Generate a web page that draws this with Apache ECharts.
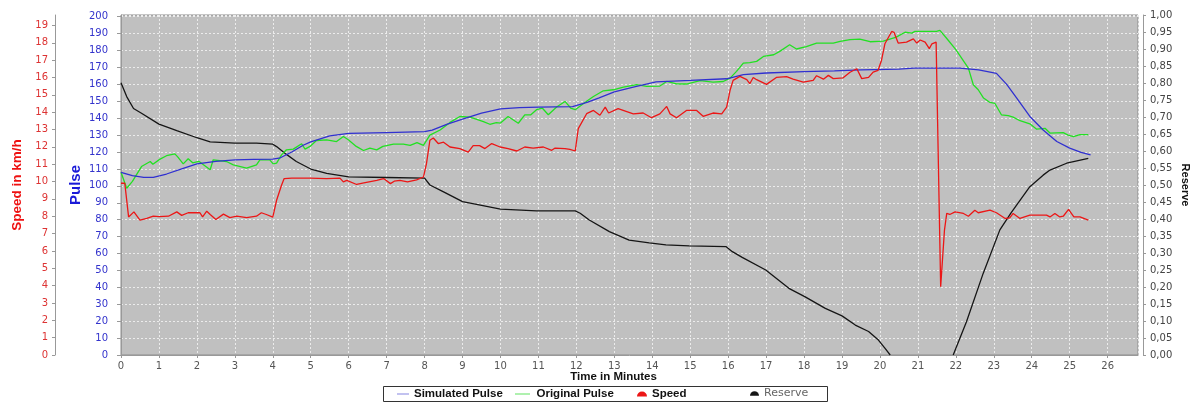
<!DOCTYPE html>
<html>
<head>
<meta charset="utf-8">
<title>Pulse simulation</title>
<script src="https://cdn.jsdelivr.net/npm/echarts@6/dist/echarts.min.js"></script>
<style>
  html, body { margin: 0; padding: 0; background: #fff; }
  #myChart { width: 1200px; height: 403px; }
</style>
</head>
<body>
<div id="myChart"></div>
<script>
// time in minutes / values
var simTime = [0, 0.3, 0.6, 0.85, 1.2, 1.6, 2.0, 2.5, 3.0, 3.5, 4.0, 4.2, 4.5, 4.8, 5.0, 5.5, 6.0, 7.0, 8.0, 8.2, 8.6, 9.0, 9.5, 10.0, 10.5, 11.0, 11.9, 12.3, 12.6, 13.0, 13.5, 14.1, 15.0, 15.96, 16.4, 17.0, 18.0, 18.8, 19.5, 20.5, 20.9, 22.1, 22.6, 23.07, 23.34, 23.6, 23.95, 24.3, 24.66, 25.0, 25.3, 25.55]
var simPulse = [108, 106, 105, 105, 107, 110, 113, 114.5, 115.3, 115.6, 115.8, 116.6, 120, 124, 126, 129.5, 131, 131.5, 132, 133, 136.5, 139.5, 143, 145.5, 146.3, 146.5, 146.8, 149.5, 152, 155.5, 158.4, 161.5, 162.3, 163.3, 165.7, 166.7, 167.5, 168, 168.5, 169, 169.6, 169.6, 168.5, 166.5, 160, 152, 141, 133, 126.2, 122.3, 119.8, 118.3]

var origTime = [0, 0.15, 0.2, 0.3, 0.54, 0.77, 0.84, 1.03, 1.2, 1.42, 1.5, 1.64, 1.77, 1.89, 2.05, 2.35, 2.43, 2.78, 2.96, 3.31, 3.57, 3.66, 3.92, 4.01, 4.1, 4.23, 4.36, 4.54, 4.76, 4.85, 4.98, 5.15, 5.42, 5.68, 5.86, 5.99, 6.2, 6.39, 6.56, 6.74, 6.9, 7.18, 7.44, 7.62, 7.8, 7.97, 8.14, 8.41, 8.67, 8.93, 9.2, 9.55, 9.72, 9.89, 10.0, 10.2, 10.47, 10.64, 10.8, 10.95, 11.1, 11.26, 11.48, 11.7, 11.85, 11.97, 12.27, 12.45, 12.71, 12.97, 13.24, 13.59, 13.85, 14.2, 14.38, 14.64, 14.9, 15.26, 15.6, 15.87, 16.05, 16.22, 16.4, 16.57, 16.75, 16.93, 17.2, 17.36, 17.62, 17.8, 18.06, 18.33, 18.77, 18.95, 19.21, 19.47, 19.74, 20.09, 20.43, 20.66, 20.84, 20.92, 21.49, 21.58, 21.75, 22.0, 22.33, 22.46, 22.59, 22.73, 22.9, 23.03, 23.2, 23.38, 23.51, 23.69, 23.95, 24.13, 24.35, 24.48, 24.83, 24.96, 25.1, 25.27, 25.49]
var origPulse = [108, 98.6, 99, 102.6, 111.4, 114.4, 112.8, 115.8, 117.8, 118.9, 117, 113, 116, 113.6, 114.5, 109.5, 115.4, 114.4, 112.4, 110.5, 112.4, 115.4, 115.4, 113, 113.4, 118.3, 121.3, 121.7, 124.9, 121.7, 123.3, 126.8, 127.2, 126.2, 129.2, 127.2, 123.3, 120.9, 122.3, 121.3, 123.3, 124.7, 124.7, 123.9, 125.6, 123.9, 130, 133, 137.5, 141, 140.6, 138, 136.4, 137.4, 137.1, 141, 137, 142, 142, 145, 146, 142, 146.6, 149.9, 146, 145, 150, 152.8, 156.2, 156.8, 158.4, 159.8, 158.8, 159, 161.7, 160.3, 160.2, 162.2, 161.3, 161.7, 163.7, 167.7, 172.6, 172.9, 173.6, 176.5, 177.5, 179.5, 183.4, 180.9, 182.3, 184.4, 184.4, 185.4, 186.5, 186.7, 185.2, 185.6, 187.9, 190.8, 190.3, 191.3, 191.3, 191.9, 187.4, 180.5, 169.6, 159.8, 156.8, 151.9, 149.3, 148.7, 142, 141.5, 140.6, 138.5, 136.7, 133.5, 134, 131.2, 131.5, 130, 129.1, 130.3, 130.3]

var speedTime = [0, 0.1, 0.2, 0.34, 0.5, 0.68, 0.85, 1.0, 1.25, 1.47, 1.6, 1.77, 2.08, 2.15, 2.26, 2.35, 2.5, 2.7, 2.87, 3.05, 3.31, 3.57, 3.7, 3.83, 4.0, 4.1, 4.23, 4.3, 4.5, 4.98, 5.42, 5.77, 5.86, 5.95, 6.21, 6.4, 6.74, 6.92, 7.1, 7.2, 7.35, 7.55, 7.79, 7.97, 8.05, 8.14, 8.23, 8.36, 8.5, 8.67, 8.93, 9.15, 9.28, 9.45, 9.59, 9.77, 9.99, 10.2, 10.43, 10.64, 10.86, 11.13, 11.35, 11.44, 11.7, 11.83, 11.97, 12.05, 12.27, 12.45, 12.62, 12.76, 12.85, 13.1, 13.5, 13.76, 13.98, 14.2, 14.38, 14.47, 14.64, 14.9, 15.17, 15.34, 15.6, 15.83, 15.96, 16.05, 16.13, 16.31, 16.49, 16.57, 16.66, 16.75, 17.01, 17.27, 17.54, 17.71, 17.98, 18.24, 18.33, 18.51, 18.64, 18.77, 19.03, 19.21, 19.39, 19.52, 19.7, 19.82, 19.95, 20.04, 20.13, 20.31, 20.37, 20.48, 20.7, 20.88, 20.97, 21.06, 21.19, 21.3, 21.37, 21.48, 21.6, 21.7, 21.76, 21.84, 21.98, 22.2, 22.33, 22.5, 22.59, 22.9, 23.07, 23.3, 23.42, 23.51, 23.69, 23.95, 24.39, 24.48, 24.61, 24.74, 24.83, 24.97, 25.11, 25.27, 25.49]
var speed = [9.9, 9.9, 7.96, 8.25, 7.77, 7.87, 8.0, 7.98, 8.0, 8.25, 8.05, 8.2, 8.2, 7.96, 8.29, 8.1, 7.81, 8.12, 7.92, 8.0, 7.92, 8.0, 8.2, 8.1, 7.95, 8.92, 9.79, 10.17, 10.2, 10.2, 10.17, 10.2, 9.98, 10.07, 9.83, 9.92, 10.07, 10.17, 9.88, 10.02, 10.07, 9.98, 10.1, 10.26, 11.03, 12.38, 12.51, 12.19, 12.27, 11.99, 11.9, 11.7, 12.07, 12.07, 11.9, 12.19, 11.99, 11.9, 11.76, 11.99, 11.93, 11.99, 11.8, 11.93, 11.9, 11.85, 11.76, 13.05, 13.91, 14.1, 13.82, 14.29, 13.95, 14.2, 13.9, 13.95, 13.68, 13.9, 14.33, 13.9, 13.68, 14.1, 14.1, 13.76, 13.95, 13.9, 14.29, 15.26, 15.83, 16.06, 15.87, 15.64, 16.0, 15.87, 15.6, 16.0, 16.05, 15.9, 15.73, 15.83, 16.1, 15.9, 16.12, 15.93, 15.98, 16.3, 16.5, 15.93, 16.0, 16.31, 16.41, 16.98, 17.94, 18.65, 18.6, 17.98, 18.04, 18.22, 17.98, 18.16, 18.04, 17.66, 17.94, 18.04, 3.93, 7.2, 8.16, 8.1, 8.25, 8.16, 8.0, 8.35, 8.2, 8.35, 8.2, 7.87, 7.9, 8.16, 7.87, 8.06, 8.06, 7.96, 8.16, 7.96, 8.0, 8.39, 7.96, 7.96, 7.77]

var reserveTime = [0, 0.15, 0.33, 0.54, 1.0, 1.47, 2.0, 2.35, 3.0, 3.57, 4.0, 4.1, 4.36, 4.62, 5.0, 5.42, 6.0, 7.0, 8.0, 8.14, 8.5, 9.0, 9.47, 10.0, 10.95, 11.97, 12.1, 12.34, 12.87, 13.39, 13.92, 14.36, 14.97, 15.94, 16.11, 16.37, 16.99, 17.6, 18.03, 18.56, 19.0, 19.35, 19.7, 19.96, 20.13, 20.27, 21.1, 21.93, 22.28, 22.72, 23.16, 23.45, 23.95, 24.3, 24.48, 24.92, 25.49]
var reserve = [0.801, 0.76, 0.725, 0.711, 0.679, 0.66, 0.639, 0.627, 0.623, 0.623, 0.62, 0.613, 0.59, 0.569, 0.547, 0.534, 0.524, 0.522, 0.52, 0.5, 0.48, 0.451, 0.441, 0.429, 0.424, 0.424, 0.417, 0.397, 0.363, 0.338, 0.33, 0.324, 0.321, 0.319, 0.304, 0.287, 0.25, 0.196, 0.171, 0.137, 0.115, 0.088, 0.069, 0.044, 0.02, 0, null, 0, 0.098, 0.24, 0.368, 0.417, 0.495, 0.529, 0.544, 0.564, 0.578]

var xTicks = { min: 0, max: 26.8, step: 1 }

function pairs (xs, ys) {
  var res = []
  for (var i = 0; i < xs.length; i++) {
    res.push([xs[i], ys[i] === null ? '-' : ys[i]])
  }
  return res
}

var myChart = echarts.init(document.getElementById('myChart'))
var tickFont = 'DejaVu Sans'
var boldFont = 'Liberation Sans'
var lineIcon = 'path://M0,0 H20 V2 H0 Z'
var halfDisc = 'path://M0,6 A6,6 0 0 1 12,6 Z'

var option = {
  animation: false,
  backgroundColor: '#fff',
  grid: {
    left: 121,
    right: 62,
    top: 15,
    bottom: 48,
    show: true,
    backgroundColor: '#c0c0c0',
    borderColor: '#8c8c8c',
    borderWidth: 1
  },
  legend: [
    { data: [{ name: 'Simulated Pulse', icon: lineIcon, itemStyle: { color: '#9a9ae6' } }], left: 397, itemWidth: 12, itemHeight: 1.5 },
    { data: [{ name: 'Original Pulse', icon: lineIcon, itemStyle: { color: '#94ec94' } }], left: 515, itemWidth: 18, itemHeight: 1.5 },
    { data: [{ name: 'Speed', icon: halfDisc }], left: 637, itemWidth: 10, itemHeight: 6 },
    {
      data: [{ name: 'Reserve', icon: halfDisc }],
      left: 750,
      itemWidth: 9,
      itemHeight: 6,
      textStyle: { fontFamily: tickFont, fontSize: 11, fontWeight: 'normal', color: '#666' }
    }
  ].map(function (l) {
    return Object.assign({
      top: 388,
      padding: 0,
      itemGap: 0,
      selectedMode: false,
      textStyle: { fontFamily: boldFont, fontSize: 11.5, fontWeight: 'bold', color: '#111' }
    }, l)
  }),
  graphic: [{
    type: 'rect',
    shape: { x: 383.5, y: 386.5, width: 444, height: 15 },
    style: { fill: 'none', stroke: '#333', lineWidth: 1 },
    z: -1
  }],
  xAxis: {
    type: 'value',
    min: xTicks.min,
    max: xTicks.max,
    interval: xTicks.step,
    name: 'Time in Minutes',
    nameLocation: 'middle',
    nameGap: 13,
    nameMoveOverlap: false,
    nameTextStyle: { fontFamily: boldFont, fontSize: 11.5, fontWeight: 'bold', color: '#111', padding: [0, 32, 0, 0] },
    offset: 3,
    axisLine: { show: true, lineStyle: { color: '#999' } },
    axisTick: { show: true, length: 3, lineStyle: { color: '#999' } },
    axisLabel: {
      margin: 3,
      fontFamily: tickFont,
      fontSize: 10,
      color: '#555',
      showMaxLabel: false,
      formatter: function (v) { return Math.abs(v - Math.round(v)) < 1e-6 ? String(Math.round(v)) : '' }
    },
    splitLine: { show: true, lineStyle: { color: '#ececec', type: [2, 2], width: 1 } }
  },
  yAxis: [
    {
      type: 'value',
      position: 'left',
      min: 0,
      max: 201,
      interval: 10,
      offset: 5,
      name: 'Pulse',
      nameLocation: 'middle',
      nameRotate: 90,
      nameGap: 33,
      nameMoveOverlap: false,
      nameTextStyle: { fontFamily: boldFont, fontSize: 15, fontWeight: 'bold', color: '#1a1ad8' },
      axisLine: { show: true, lineStyle: { color: '#999' } },
      axisTick: { show: true, length: 4, lineStyle: { color: '#999' } },
      axisLabel: {
        margin: 8,
        fontFamily: tickFont,
        fontSize: 10,
        color: '#3333cc',
        showMaxLabel: false,
        formatter: function (v) { return v % 10 === 0 ? String(v) : '' }
      },
      splitLine: { show: true, lineStyle: { color: '#ececec', type: [2, 2], width: 1 } }
    },
    {
      type: 'value',
      position: 'left',
      min: 0,
      max: 19.6,
      interval: 1,
      offset: 66,
      name: 'Speed in km/h',
      nameLocation: 'middle',
      nameRotate: 90,
      nameGap: 31,
      nameMoveOverlap: false,
      nameTextStyle: { fontFamily: boldFont, fontSize: 13.5, fontWeight: 'bold', color: '#ee1111' },
      axisLine: { show: true, lineStyle: { color: '#999' } },
      axisTick: { show: true, length: 3, lineStyle: { color: '#999' } },
      axisLabel: {
        margin: 7,
        fontFamily: tickFont,
        fontSize: 10,
        color: '#dd3333',
        showMaxLabel: false,
        formatter: function (v) { return Math.abs(v - Math.round(v)) < 1e-6 ? String(Math.round(v)) : '' }
      },
      splitLine: { show: false }
    },
    {
      type: 'value',
      position: 'right',
      min: 0,
      max: 1,
      interval: 0.05,
      offset: 5,
      name: 'Reserve',
      nameLocation: 'middle',
      nameRotate: -90,
      nameGap: 37,
      nameMoveOverlap: false,
      nameTextStyle: { fontFamily: boldFont, fontSize: 11, fontWeight: 'bold', color: '#111' },
      axisLine: { show: true, lineStyle: { color: '#999' } },
      axisTick: { show: true, length: 3, lineStyle: { color: '#999' } },
      axisLabel: {
        margin: 7,
        fontFamily: tickFont,
        fontSize: 10,
        color: '#444',
        formatter: function (v) { return v.toFixed(2).replace('.', ',') }
      },
      splitLine: { show: false }
    }
  ],
  series: [
    {
      name: 'Simulated Pulse',
      type: 'line',
      yAxisIndex: 0,
      symbol: 'none',
      z: 4,
      lineStyle: { color: '#3030d0', width: 1.3 },
      itemStyle: { color: '#3030d0' },
      data: pairs(simTime, simPulse)
    },
    {
      name: 'Original Pulse',
      type: 'line',
      yAxisIndex: 0,
      symbol: 'none',
      z: 3,
      lineStyle: { color: '#22e022', width: 1.3 },
      itemStyle: { color: '#22e022' },
      data: pairs(origTime, origPulse)
    },
    {
      name: 'Speed',
      type: 'line',
      yAxisIndex: 1,
      symbol: 'none',
      z: 5,
      lineStyle: { color: '#ec1616', width: 1.3 },
      itemStyle: { color: '#ec1616' },
      data: pairs(speedTime, speed)
    },
    {
      name: 'Reserve',
      type: 'line',
      yAxisIndex: 2,
      symbol: 'none',
      z: 2,
      connectNulls: false,
      lineStyle: { color: '#151515', width: 1.3 },
      itemStyle: { color: '#151515' },
      data: pairs(reserveTime, reserve)
    }
  ]
}

myChart.setOption(option)
</script>
</body>
</html>
